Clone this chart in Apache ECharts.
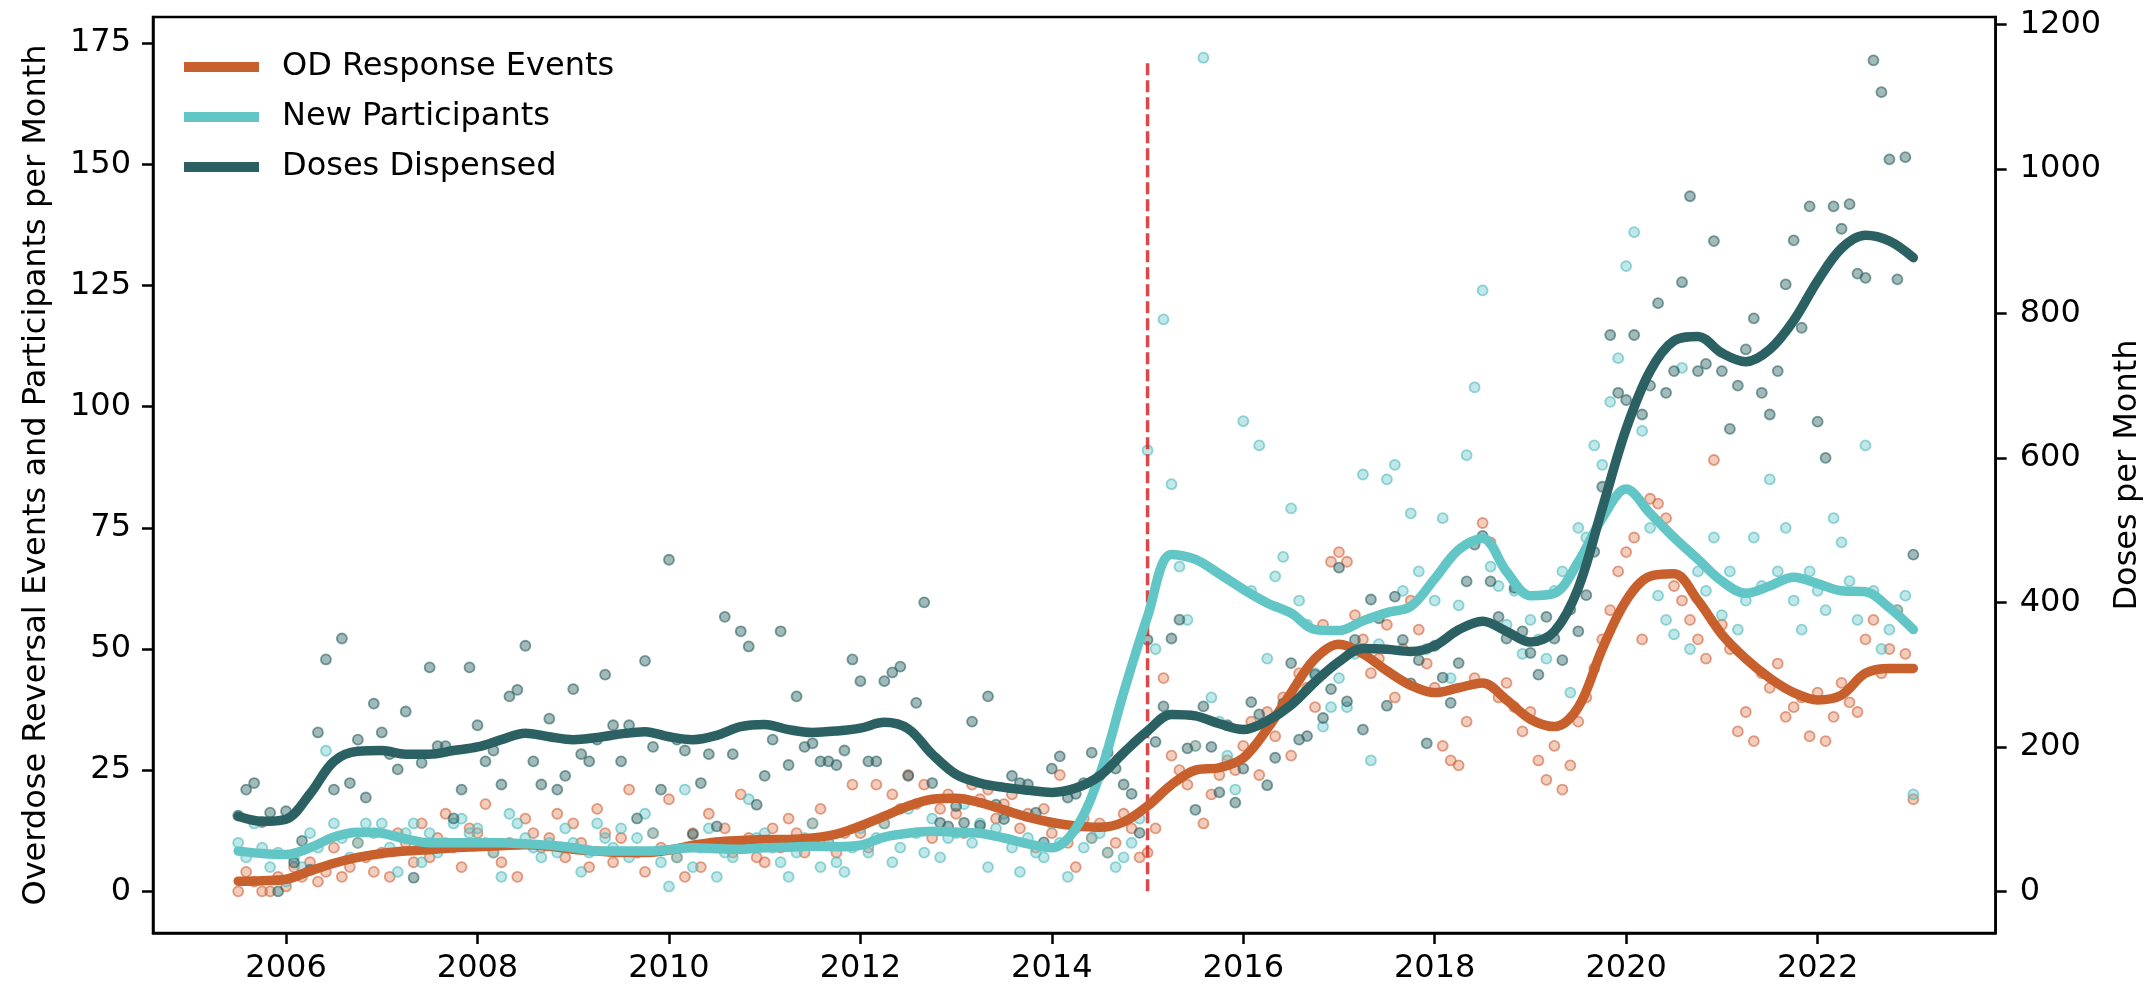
<!DOCTYPE html>
<html>
<head>
<meta charset="utf-8">
<title>OD response events, new participants and doses dispensed</title>
<script src="https://cdn.jsdelivr.net/npm/echarts@6/dist/echarts.min.js"></script>
<style>
  html, body { margin: 0; padding: 0; background: #fff; }
  #chart { width: 2152px; height: 990px; }
</style>
</head>
<body>
<div id="chart"></div>
<script>
// monthly observations, July 2005 .. January 2023
const firstMonth = 2005.5

const odEvents = [
  0, 4, 2, 0, 0, 3,
  1, 5, 3, 6, 2, 4, 9, 3, 5, 10, 7, 4,
  8, 3, 12, 10, 6, 14, 7, 11, 16, 9, 5, 13,
  12, 18, 8, 6, 10, 3, 15, 12, 9, 11, 16, 7,
  14, 10, 5, 17, 12, 6, 11, 21, 8, 4, 12, 9,
  19, 7, 3, 12, 5, 16, 10, 13, 8, 20, 11, 7,
  6, 13, 9, 15, 12, 8, 14, 17, 10, 8, 12, 22,
  12, 9, 22, 14, 20, 17, 24, 18, 22, 11, 17, 20,
  16, 12, 22, 19, 21, 15, 18, 20, 13, 16, 9, 17,
  12, 24, 10, 5, 15, 11, 14, 8, 10, 16, 13, 7,
  8, 13, 44, 28, 25, 22, 30, 14, 20, 24, 27, 25,
  30, 35, 24, 37, 32, 40, 28, 45, 42, 38, 55, 68,
  70, 68, 57, 52, 45, 48, 55, 40, 50, 60, 54, 47,
  42, 30, 27, 26, 35, 44, 76, 72, 40, 43, 38, 33,
  37, 27, 23, 30, 21, 26, 35, 40, 46, 52, 58, 66,
  70, 73, 52, 81, 80, 77, 63, 60, 56, 52, 48, 89,
  55, 50, 33, 37, 31, 45, 42, 47, 36, 38, 40, 32,
  41, 31, 36, 43, 39, 37, 52, 56, 45, 50, 58, 49,
  19
]

const newParticipants = [
  10, 7, 14, 9, 5, 8,
  2, 7, 5, 12, 9, 29, 14, 11, 7, 10, 14, 12,
  14, 9, 4, 12, 14, 6, 12, 8, 10, 14, 15, 12,
  13, 10, 8, 3, 16, 14, 11, 9, 7, 10, 8, 13,
  10, 4, 8, 14, 11, 9, 13, 7, 11, 16, 12, 6,
  1, 7, 21, 5, 9, 13, 3, 8, 7, 10, 19, 11,
  12, 9, 6, 3, 8, 11, 14, 5, 10, 6, 4, 9,
  13, 8, 11, 14, 6, 9, 17, 12, 8, 15, 7, 11,
  12, 18, 10, 14, 5, 13, 16, 9, 4, 11, 8, 7,
  14, 10, 3, 13, 9, 11, 12, 8, 5, 7, 10, 15,
  91, 50, 118, 84, 67, 56, 30, 172, 40, 35, 28, 21,
  97, 62, 92, 48, 65, 69, 79, 60, 55, 45, 34, 38,
  44, 38, 49, 86, 27, 51, 85, 88, 62, 78, 66, 50,
  60, 77, 44, 59, 90, 104, 124, 67, 63, 55, 62, 49,
  56, 52, 48, 62, 66, 41, 75, 73, 92, 88, 101, 110,
  129, 136, 95, 75, 61, 56, 53, 108, 50, 66, 62, 73,
  57, 66, 54, 60, 73, 63, 85, 66, 75, 60, 54, 66,
  62, 58, 77, 72, 64, 56, 92, 62, 50, 54, 58, 61,
  20
]

const dosesDispensed = [
  105, 141, 150, 96, 109, 0,
  111, 40, 70, 30, 220, 321, 141, 350, 150, 210, 130, 260,
  220, 190, 169, 249, 19, 178, 310, 201, 201, 101, 141, 310,
  230, 180, 195, 148, 270, 279, 340, 180, 148, 239, 141, 160,
  280, 190, 180, 210, 300, 230, 180, 230, 101, 319, 200, 141,
  459, 210, 195, 79, 150, 190, 90, 380, 190, 360, 339, 120,
  160, 210, 360, 175, 270, 200, 205, 180, 180, 175, 195, 321,
  291, 180, 180, 291, 303, 311, 160, 261, 400, 150, 95, 90,
  118, 95, 235, 91, 270, 120, 100, 160, 150, 148, 109, 68,
  170, 187, 130, 135, 150, 192, 160, 192, 170, 148, 135, 81,
  348, 207, 256, 350, 376, 198, 113, 256, 200, 137, 230, 123,
  170, 262, 245, 147, 185, 260, 316, 210, 215, 300, 240, 280,
  448, 263, 348, 224, 404, 378, 257, 408, 348, 288, 320, 205,
  340, 296, 261, 316, 429, 480, 492, 429, 380, 350, 420, 360,
  330, 300, 380, 350, 320, 390, 360, 410, 470, 560, 770, 690,
  680, 770, 660, 700, 814, 690, 720, 843, 962, 720, 730, 900,
  720, 640, 700, 750, 793, 690, 660, 720, 840, 901, 780, 948,
  650, 600, 948, 917, 951, 855, 849, 1150, 1106, 1013, 847, 1016,
  466
]

// smoothed trends, read every quarter from 2005.5 to 2023.0
const trendStart = 2005.5
const odTrend = [
  2.1, 2.2, 2.5, 4.2, 5.8, 7.0, 7.8, 8.3, 8.6, 9.0, 9.2, 9.4, 9.6, 9.3,
  8.7, 8.3, 8.0, 8.0, 8.5, 9.5, 10.2, 10.5, 10.7, 10.7, 11.0, 11.8, 13.5,
  15.5, 17.6, 19.0, 19.2, 18.3, 16.8, 15.3, 14.2, 13.5, 13.2, 14.3, 17.6,
  22.0, 25.0, 25.5, 27.5, 33.5, 41.0, 48.0, 51.0, 49.0, 45.5, 42.5, 41.0,
  42.0, 43.0, 39.5, 35.5, 34.0, 38.0, 50.0, 60.0, 65.0, 65.5, 60.0, 53.0,
  48.0, 44.0, 41.0, 39.5, 40.5, 45.0, 46.0, 46.0
]
const participantsTrend = [
  8.3, 7.8, 7.6, 9.0, 11.2, 12.2, 12.0, 10.8, 10.0, 10.0, 10.0, 10.0, 9.8,
  9.5, 9.0, 8.3, 8.3, 8.3, 8.6, 9.0, 8.8, 8.7, 9.0, 9.1, 9.3, 9.2, 9.5,
  11.2, 12.0, 12.4, 12.2, 12.0, 11.0, 9.8, 9.0, 13.0, 24.0, 41.0, 56.7,
  69.5, 68.5, 65.5, 62.3, 59.5, 57.4, 54.0, 53.8, 55.8, 57.5, 58.8, 64.5,
  70.5, 72.8, 66.0, 61.0, 61.5, 68.0, 77.0, 83.0, 78.0, 73.0, 68.5, 64.0,
  61.5, 63.0, 64.8, 63.5, 62.0, 61.8, 58.5, 54.0
]
const dosesTrend = [
  104, 97, 100, 135, 180, 194, 195, 190, 190, 195, 200, 210, 219, 214,
  210, 213, 218, 221, 214, 210, 216, 228, 231, 224, 220, 222, 226, 234,
  225, 190, 162, 150, 144, 140, 137, 143, 160, 192, 222, 245, 243, 232,
  224, 236, 258, 290, 318, 336, 335, 332, 340, 362, 374, 360, 345, 360,
  420, 530, 640, 720, 762, 768, 745, 733, 750, 790, 845, 890, 908, 900,
  877
]

// programme change marker
const changeYear = 2015
const changeTop = 171.5

const yearTicks = [2006, 2008, 2010, 2012, 2014, 2016, 2018, 2020, 2022]
const leftTicks = [0, 25, 50, 75, 100, 125, 150, 175]
const rightTicks = [0, 200, 400, 600, 800, 1000, 1200]

const FONT = 'DejaVu Sans'
const ORANGE = '#c8602e'
const CYAN = '#62c6c7'
const TEAL = '#2c6163'

function monthly(values) {
  return values.map((v, i) => [firstMonth + i / 12, v])
}

function quarterly(values) {
  return values.map((v, i) => [trendStart + i * 0.25, v])
}

function scatter(name, values, fill, edge, yAxisIndex) {
  return {
    name,
    type: 'scatter',
    yAxisIndex,
    symbolSize: 10,
    z: 2,
    itemStyle: { color: fill, borderColor: edge, borderWidth: 1.8 },
    data: monthly(values)
  }
}

function trend(name, values, color, yAxisIndex) {
  return {
    name,
    type: 'line',
    yAxisIndex,
    smooth: 0.35,
    showSymbol: false,
    z: 4,
    color,
    lineStyle: { color, width: 9.5, cap: 'round', join: 'round' },
    data: quarterly(values)
  }
}

const axisLine = { onZero: false, lineStyle: { color: '#000', width: 2.5 } }
const tickStyle = { lineStyle: { color: '#000', width: 2.5 }, length: 11 }
const labelStyle = { color: '#000', fontSize: 32, fontFamily: FONT }
const plain = (v) => String(v)

const chart = echarts.init(document.getElementById('chart'))

chart.setOption({
  animation: false,
  backgroundColor: '#fff',
  grid: {
    left: 153,
    right: 156,
    top: 17,
    bottom: 57,
    show: true,
    borderColor: '#000',
    borderWidth: 2.5
  },
  legend: {
    data: ['OD Response Events', 'New Participants', 'Doses Dispensed'],
    orient: 'vertical',
    left: 179,
    top: 42,
    icon: 'rect',
    itemWidth: 75,
    itemHeight: 10,
    itemGap: 10,
    textStyle: {
      color: '#000',
      fontSize: 32,
      fontFamily: FONT,
      lineHeight: 40,
      padding: [0, 0, 0, 18]
    }
  },
  xAxis: {
    type: 'value',
    min: 2004.61,
    max: 2023.86,
    splitLine: { show: false },
    axisLine,
    axisTick: { ...tickStyle, customValues: yearTicks },
    axisLabel: { ...labelStyle, margin: 20, customValues: yearTicks, formatter: plain }
  },
  yAxis: [
    {
      type: 'value',
      position: 'left',
      min: -8.6,
      max: 180.4,
      name: 'Overdose Reversal Events and Participants per Month',
      nameLocation: 'middle',
      nameRotate: 90,
      nameGap: 100,
      nameTextStyle: { ...labelStyle },
      splitLine: { show: false },
      axisLine: { show: true, ...axisLine },
      axisTick: { ...tickStyle, customValues: leftTicks },
      axisLabel: { ...labelStyle, margin: 22, customValues: leftTicks, formatter: plain }
    },
    {
      type: 'value',
      position: 'right',
      min: -57.5,
      max: 1210,
      name: 'Doses per Month',
      nameLocation: 'middle',
      nameRotate: 90,
      nameGap: 114,
      nameTextStyle: { ...labelStyle },
      splitLine: { show: false },
      axisLine: { show: true, ...axisLine },
      axisTick: { ...tickStyle, customValues: rightTicks },
      axisLabel: { ...labelStyle, margin: 24, customValues: rightTicks, formatter: plain }
    }
  ],
  series: [
    scatter('OD Response Events (monthly)', odEvents, 'rgba(226,128,88,0.5)', 'rgba(205,100,60,0.75)', 0),
    scatter('New Participants (monthly)', newParticipants, 'rgba(98,198,199,0.5)', 'rgba(80,185,188,0.75)', 0),
    scatter('Doses Dispensed (monthly)', dosesDispensed, 'rgba(44,97,99,0.55)', 'rgba(44,97,99,0.75)', 1),
    {
      name: 'change',
      type: 'line',
      yAxisIndex: 0,
      symbol: 'none',
      z: 3,
      lineStyle: { color: 'rgba(214,39,40,0.85)', width: 3.5, type: [12, 5] },
      data: [[changeYear, 0], [changeYear, changeTop]]
    },
    trend('OD Response Events', odTrend, ORANGE, 0),
    trend('New Participants', participantsTrend, CYAN, 0),
    trend('Doses Dispensed', dosesTrend, TEAL, 1)
  ]
})
</script>
</body>
</html>
